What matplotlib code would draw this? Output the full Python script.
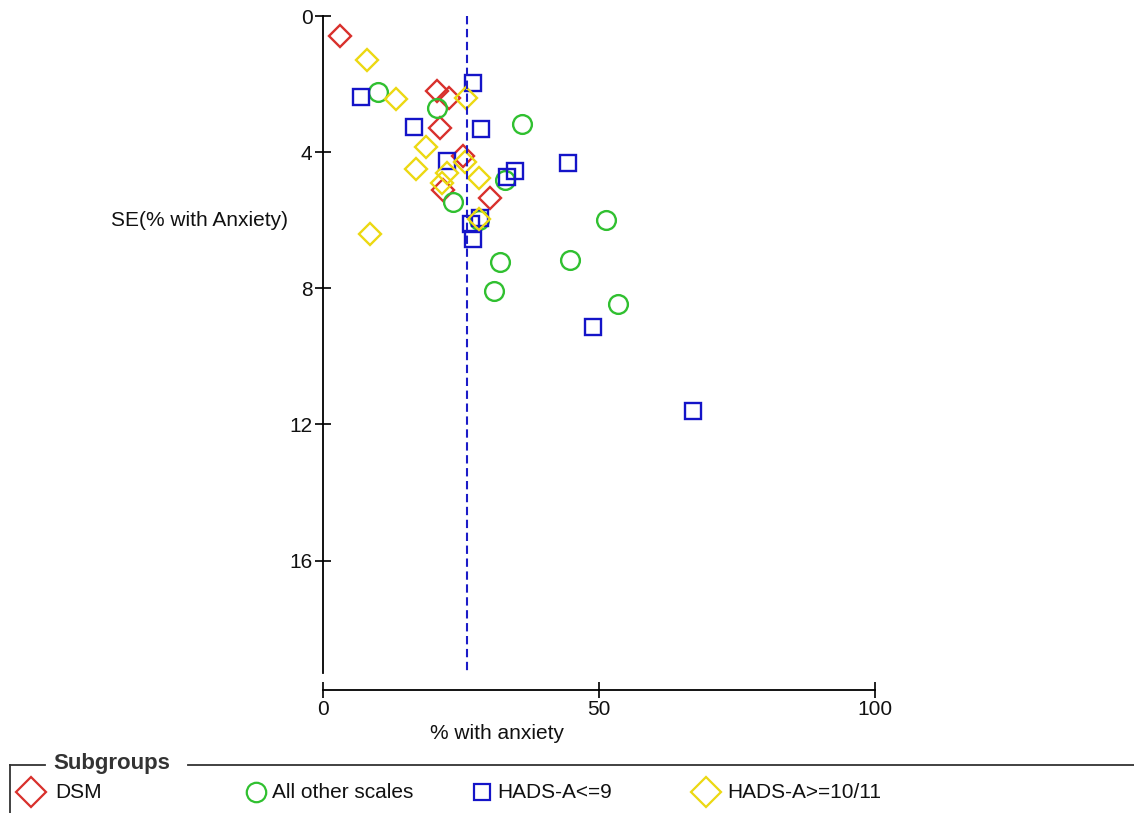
"""Funnel plot: % with anxiety vs SE, by subgroup."""
import matplotlib
matplotlib.use("Agg")
import matplotlib.pyplot as plt
from matplotlib.lines import Line2D

plt.rcParams["font.family"] = ["Liberation Sans", "DejaVu Sans"]

# --- data ---
dsm_x = [3.0, 20.7, 22.8, 21.2, 25.3, 21.7, 30.3]
dsm_se = [0.6, 2.2, 2.4, 3.3, 4.1, 5.1, 5.35]

other_x = [10.0, 20.6, 36.1, 33.0, 23.5, 28.3, 51.3, 32.1, 44.7, 31.0, 53.5]
other_se = [2.22, 2.71, 3.18, 4.81, 5.45, 5.99, 6.0, 7.23, 7.16, 8.09, 8.46]

hads9_x = [27.2, 6.9, 16.4, 28.6, 22.5, 44.3, 34.8, 33.3, 28.4, 26.8, 27.2, 49.0, 67.0]
hads9_se = [1.96, 2.37, 3.25, 3.33, 4.26, 4.33, 4.54, 4.72, 5.94, 6.11, 6.56, 9.14, 11.6]

hads10_x = [7.9, 13.3, 25.9, 18.6, 16.8, 22.4, 21.5, 25.7, 28.2, 28.3, 8.6]
hads10_se = [1.3, 2.45, 2.4, 3.85, 4.5, 4.6, 4.9, 4.3, 4.75, 5.95, 6.4]

pooled = 26.1
xticks = [0, 50, 100]
yticks = [0, 4, 8, 12, 16]
ymax = 19.3

groups = [
    ("DSM", dsm_x, dsm_se, "D", 11.5, "#d8302c"),
    ("All other scales", other_x, other_se, "o", 13.5, "#30c030"),
    ("HADS-A<=9", hads9_x, hads9_se, "s", 12, "#1414c8"),
    ("HADS-A>=10/11", hads10_x, hads10_se, "D", 11.5, "#ecd812"),
]

W, H = 1134, 813
fig = plt.figure(figsize=(W / 100, H / 100), dpi=100)
ax = fig.add_axes([323 / W, 1 - 673 / H, 552 / W, 657 / H])

for name, xs, ys, mk, ms, col in groups:
    ax.plot(xs, ys, ls="none", marker=mk, ms=ms, mfc="none", mec=col, mew=1.7)

ax.plot([pooled, pooled], [0, ymax], ls=(0, (4, 2.2)), color="#1c1cc8", lw=1.5)

ax.set_xlim(0, 100)
ax.set_ylim(ymax, 0)
ax.set_xticks(xticks)
ax.set_yticks(yticks)
ax.spines["top"].set_visible(False)
ax.spines["right"].set_visible(False)
ax.spines["bottom"].set_position(("outward", 12))
for s in ("left", "bottom"):
    ax.spines[s].set_linewidth(1.3)
ax.tick_params(direction="inout", length=11, width=1.3, labelsize=15,
               colors="#111111")
ax.tick_params(axis="y", pad=2)
ax.tick_params(axis="x", pad=2)

fig.text(288 / W, 1 - 220 / H, "SE(% with Anxiety)", ha="right", va="center",
         fontsize=15, color="#111111")
fig.text(497 / W, 1 - 733 / H, "% with anxiety", ha="center", va="center",
         fontsize=15, color="#111111")

# legend box, drawn in pixel coordinates
lg = fig.add_axes([0, 0, 1, 1], zorder=-1)
lg.set_xlim(0, W)
lg.set_ylim(H, 0)
lg.axis("off")
frame_kw = dict(color="#333333", lw=1.3)
lg.add_line(Line2D([10, 10], [765, H], **frame_kw))
lg.add_line(Line2D([10, 45], [765, 765], **frame_kw))
lg.add_line(Line2D([188, W], [765, 765], **frame_kw))
lg.text(53, 763, "Subgroups", ha="left", va="center", fontsize=16,
        fontweight="bold", color="#333333")
leg_pos = [(31, 55), (256, 272), (482, 497), (706, 727)]
leg_ms = [15, 14, 12, 15]
for (name, xs, ys, mk, ms, col), (mx, tx), lms in zip(groups, leg_pos, leg_ms):
    lg.plot([mx], [792], ls="none", marker=mk, ms=lms, mfc="none", mec=col, mew=1.6)
    lg.text(tx, 792, name, ha="left", va="center", fontsize=15, color="#111111")

fig.savefig("out.png", dpi=100)
